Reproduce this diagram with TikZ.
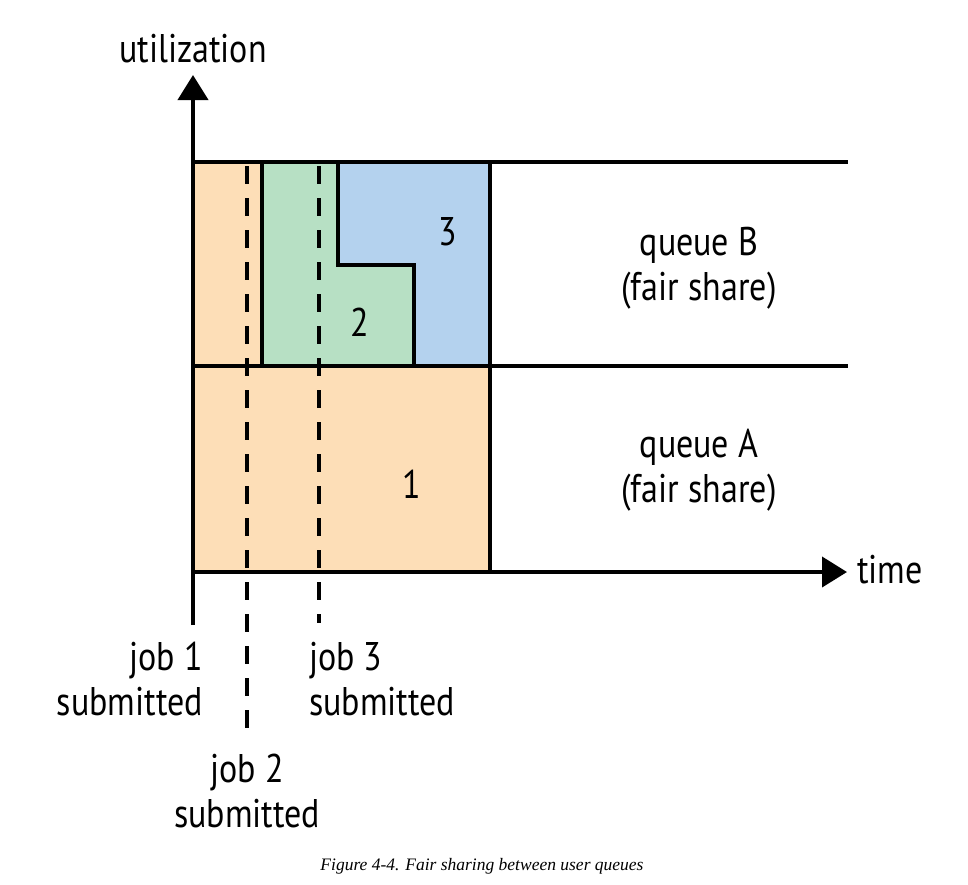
\documentclass[tikz,border=0pt]{standalone}
\usepackage{fontspec}
\setmainfont{PT Sans}[FakeStretch=0.85]
\newfontfamily\capfont{Liberation Serif}
\usetikzlibrary{arrows.meta}
\definecolor{jobA}{RGB}{253,222,183}
\definecolor{jobB}{RGB}{183,224,196}
\definecolor{jobC}{RGB}{180,210,238}
\tikzstyle{lbl} = [inner sep=0pt, font={\fontsize{40}{45}\selectfont}]
\tikzstyle{two} = [lbl, align=center]
\tikzstyle{edge} = [line width=4pt]
\tikzstyle{axis} = [edge, -{Triangle[length=25pt,width=30pt]}]
\tikzstyle{submit} = [line width=4pt, dash pattern=on 18pt off 14pt, dash phase=-4pt]

\begin{document}
\begin{tikzpicture}[x=1pt,y=-1pt]
        \useasboundingbox (0,0) rectangle (968,884);
        \fill[jobA] (193,366) rectangle (490,572);
        \fill[jobA] (193,162) rectangle (262,366);
        \fill[jobB] (262,162) -- (338,162) -- (338,265) -- (414,265) -- (414,366) -- (262,366) -- cycle;
        \fill[jobC] (338,162) -- (490,162) -- (490,366) -- (414,366) -- (414,265) -- (338,265) -- cycle;
        \coordinate (o) at (193,572);
        \coordinate (ybot) at (193,625);
        \coordinate (ytop) at (193,75);
        \coordinate (xend) at (847,572);
        \coordinate (bl) at (193,162);
        \coordinate (br) at (848,162);
        \coordinate (ml) at (193,366);
        \coordinate (mr) at (848,366);
        \coordinate (t1) at (247,162);
        \coordinate (e1) at (247,737);
        \coordinate (t3) at (319,162);
        \coordinate (e3) at (319,623);
        \draw[edge] (bl)--(br);
        \draw[edge] (ml)--(mr);
        \draw[edge] (262,162)--(262,366);
        \draw[edge] (338,162)--(338,265)--(414,265)--(414,366);
        \draw[edge] (490,162)--(490,572);
        \draw[axis] (ybot)--(ytop);
        \draw[axis] (o)--(xend);
        \draw[submit] (t1)--(e1);
        \draw[submit] (t3)--(e3);
        \node[lbl,anchor=base](util) at (193,62){utilization};
        \node[lbl,anchor=base west](time) at (857,583){time};
        \node[lbl](n1) at (412,484){1};
        \node[lbl](n2) at (360,322){2};
        \node[lbl](n3) at (448,232){3};
        \node[two,anchor=base](qB) at (699,300){queue B\\(fair share)};
        \node[two,anchor=base](qA) at (699,502){queue A\\(fair share)};
        \node[lbl,align=right,anchor=base east](j1) at (203,715){job 1\\submitted};
        \node[lbl,align=center,anchor=base](j2) at (247,827){job 2\\submitted};
        \node[lbl,align=left,anchor=base west](j3) at (309,715){job 3\\submitted};
        \node[inner sep=0pt,anchor=base](cap) at (482,870){\capfont\itshape\fontsize{17.5}{20}\selectfont Figure 4-4. Fair sharing between user queues};
      \end{tikzpicture}
\end{document}
